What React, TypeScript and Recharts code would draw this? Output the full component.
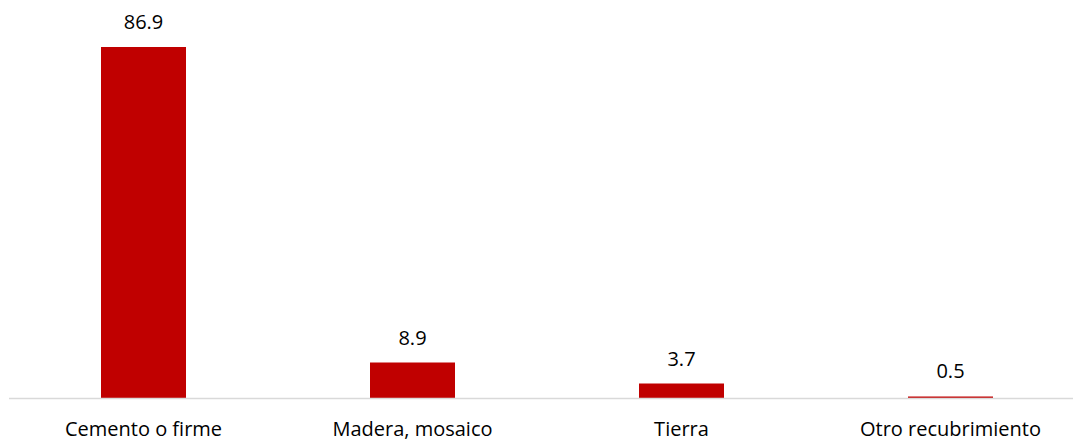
import React from "react";
import { BarChart, Bar, XAxis, YAxis, LabelList } from "recharts";

const categories = ["Cemento o firme", "Madera, mosaico", "Tierra", "Otro recubrimiento"];
const values = [86.9, 8.9, 3.7, 0.5];

const data = categories.map((name, i) => ({ name, value: values[i] }));

export default function App() {
  return (
    <div style={{ position: "absolute", left: 0, top: 0, width: 1073, height: 443, overflow: "hidden", background: "#fff" }}>
      <BarChart
        width={1090}
        height={443}
        data={data}
        margin={{ top: 34.5, right: 5, bottom: 0, left: 9 }}
        style={{ fontFamily: "'Open Sans', sans-serif" }}
      >
        <XAxis
          dataKey="name"
          height={44.5}
          axisLine={{ stroke: "#d9d9d9", strokeWidth: 1.5 }}
          tickLine={false}
          tickMargin={17}
          tick={{ fill: "#000", fontSize: 20 }}
          interval={0}
        />
        <YAxis hide domain={[0, 90]} />
        <Bar dataKey="value" fill="#c00000" barSize={85} isAnimationActive={false}>
          <LabelList dataKey="value" position="top" offset={18} fill="#000" fontSize={20} formatter={(v: number) => v.toFixed(1)} />
        </Bar>
      </BarChart>
    </div>
  );
}
